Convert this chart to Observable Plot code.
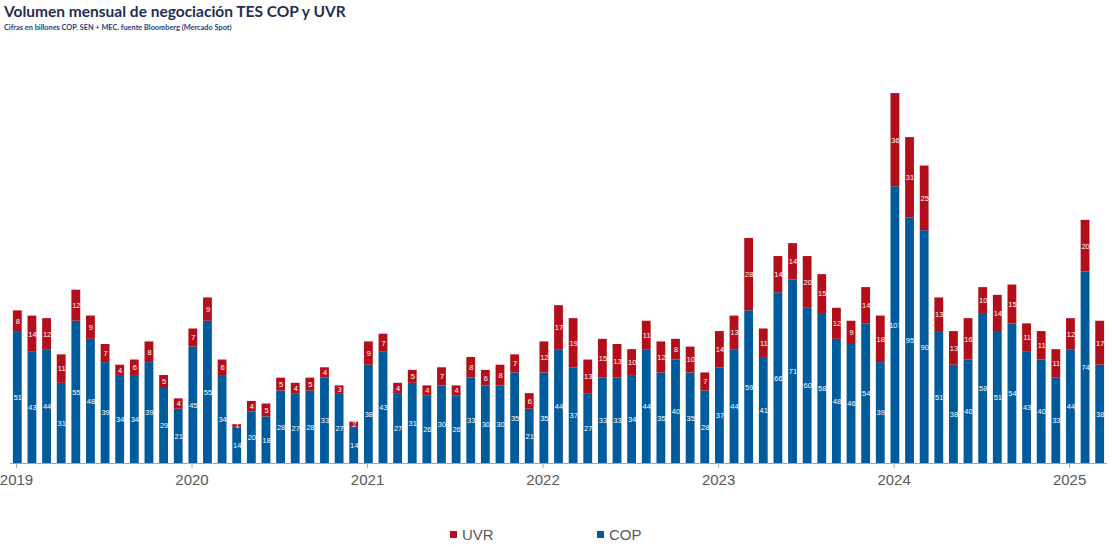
<!DOCTYPE html>
<html><head><meta charset="utf-8">
<script src="https://cdn.jsdelivr.net/npm/d3@7"></script>
<script src="https://cdn.jsdelivr.net/npm/@observablehq/plot@0.6"></script>
<style>
body{margin:0;background:#fff;width:1112px;height:547px;overflow:hidden;position:relative;font-family:"Liberation Sans",Arial,sans-serif;}
#title{position:absolute;left:4px;top:2px;font-family:Lato,sans-serif;font-weight:bold;font-size:15.5px;color:#1f2f52;white-space:nowrap;}
#sub{position:absolute;left:4px;top:23px;font-family:Lato,sans-serif;font-weight:bold;font-size:7.35px;color:#1f3f78;white-space:nowrap;}
#chart{position:absolute;left:0;top:32px;}
.lg{position:absolute;top:526px;font-size:15px;color:#595959;display:flex;align-items:center;}
.sw{width:7px;height:7px;margin-right:5px;display:inline-block;}
</style></head>
<body>
<div id="title">Volumen mensual de negociación TES COP y UVR</div>
<div id="sub">Cifras en billones COP. SEN + MEC. fuente Bloomberg (Mercado Spot)</div>
<div id="chart"></div>
<div class="lg" style="left:450px"><span class="sw" style="background:#b20f1b"></span>UVR</div>
<div class="lg" style="left:597px"><span class="sw" style="background:#005b9c"></span>COP</div>
<script>
const years = ["2019","2020","2021","2022","2023","2024","2025"];
const seriesNames = ["COP","UVR"];
const cop = [51,43,44,31,55,48,39,34,34,39,29,21,
45,55,34,14,20,18,28,27,28,33,27,14,
38,43,27,31,26,30,26,33,30,30,35,21,
35,44,37,27,33,33,34,44,35,40,35,28,
37,44,59,41,66,71,60,58,48,46,54,39,
107,95,90,51,38,40,58,51,54,43,40,33,
44,74,38];
const uvr = [8,14,12,11,12,9,7,4,6,8,5,4,
7,9,6,1,4,5,5,4,5,4,3,2,
9,7,4,5,4,7,4,8,6,8,7,6,
12,17,19,13,15,13,10,11,12,8,10,7,
14,13,28,11,14,14,20,15,12,9,14,18,
36,31,25,13,13,16,10,14,15,11,11,11,
12,20,17];
const colors = ["#005b9c","#b20f1b"];

const rows = [];
cop.forEach((v,i)=>rows.push({i, series:"COP", value:v}));
uvr.forEach((v,i)=>rows.push({i, series:"UVR", value:v}));
const n = cop.length;

const chart = Plot.plot({
  width:1112, height:470,
  marginLeft:10, marginRight:5, marginTop:43, marginBottom:39,
  style:{fontFamily:'"Liberation Sans",Arial,sans-serif', background:"transparent"},
  x:{type:"linear", domain:[0,n], axis:null},
  y:{domain:[0,150], axis:null},
  color:{domain:seriesNames, range:colors},
  marks:[
    Plot.rectY(rows, Plot.stackY({x1:"i", x2:d=>d.i+1, y:"value", z:"series", order:seriesNames, fill:"series", insetLeft:2.9, insetRight:2.9})),
    Plot.text(rows, Plot.stackY({x:d=>d.i+0.5, y:"value", z:"series", order:seriesNames, text:"value", fill:"white", fontSize:7.5})),
    Plot.ruleY([0], {stroke:"#a6a6a6", strokeWidth:1.2}),
    Plot.axisX({ticks:years.map((y,k)=>k*12), tickFormat:d=>years[d/12], tickSize:5, tickPadding:6, stroke:"#a6a6a6", fill:"#595959", fontSize:15, dx:6, label:null})
  ]
});
document.getElementById("chart").appendChild(chart);
</script>
</body></html>
